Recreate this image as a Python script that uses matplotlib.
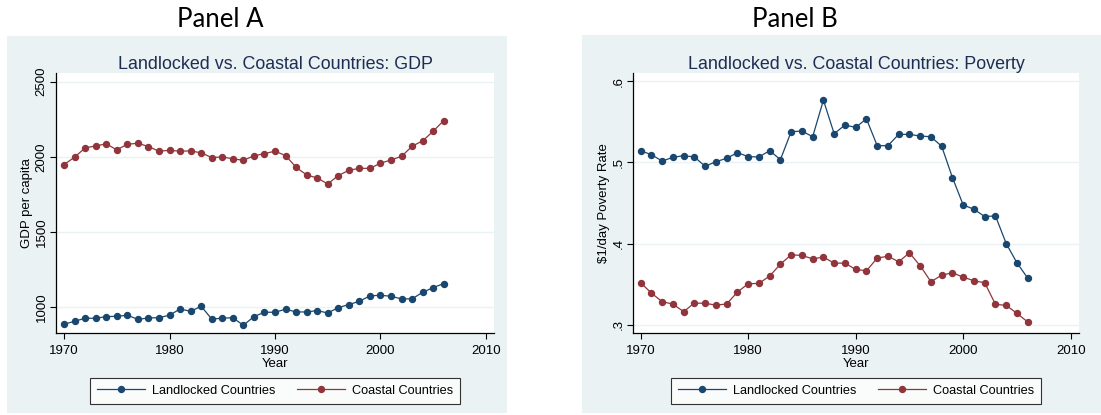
import matplotlib
matplotlib.use("Agg")
import matplotlib.pyplot as plt
from matplotlib.patches import Rectangle

# Data
years = list(range(1970, 2007))

gdp_landlocked = [887, 907, 927, 927, 938, 940, 947, 920, 929, 931,
                  947, 989, 973, 1007, 922, 927, 931, 880, 938, 967,
                  967, 987, 969, 969, 978, 962, 998, 1018, 1040, 1076,
                  1080, 1073, 1056, 1056, 1100, 1131, 1158]
gdp_coastal = [1949, 1998, 2060, 2073, 2087, 2047, 2084, 2091, 2069, 2038,
               2044, 2038, 2040, 2027, 1996, 2000, 1987, 1978, 2007, 2022,
               2038, 2009, 1931, 1880, 1860, 1820, 1876, 1911, 1924, 1924,
               1958, 1980, 2004, 2071, 2107, 2171, 2242]

pov_landlocked = [.5143, .5094, .5016, .5061, .5082, .5066, .4951, .5008, .5049, .5119,
                  .5070, .5066, .5143, .5033, .5377, .5385, .5315, .5766, .5352, .5459,
                  .5430, .5536, .5205, .5205, .5344, .5344, .5324, .5315, .5197, .4812,
                  .4475, .4422, .4332, .4340, .4000, .3762, .3574]
pov_coastal = [.3517, .3390, .3283, .3255, .3161, .3267, .3263, .3242, .3255, .3402,
               .3504, .3509, .3599, .3746, .3861, .3853, .3812, .3832, .3758, .3758,
               .3681, .3664, .3820, .3844, .3775, .3885, .3726, .3529, .3611, .3640,
               .3586, .3541, .3517, .3251, .3238, .3140, .3034]

series_names = ["Landlocked Countries", "Coastal Countries"]
x_ticks = [1970, 1980, 1990, 2000, 2010]
gdp_ticks = [1000, 1500, 2000, 2500]
pov_ticks = [.3, .4, .5, .6]
pov_tick_labels = [".3", ".4", ".5", ".6"]

NAVY = "#1a476f"
MAROON = "#90353b"
REGION = "#eaf2f3"
TITLE_COL = "#1e2d53"

plt.rcParams["font.family"] = ["Liberation Sans", "DejaVu Sans"]

W, H = 1101, 415
fig = plt.figure(figsize=(W / 100, H / 100), dpi=100)


def px_box(left, top, right, bottom):
    return [left / W, 1 - bottom / H, (right - left) / W, (bottom - top) / H]


def draw_panel(region, box, ylist1, ylist2, title, ylabel, yticks, yticklabels, ylim, xlim, panel_name, panel_x):
    # light gray-blue graph region behind the plot
    l, t, r, b = region
    fig.patches.append(Rectangle((l / W, 1 - b / H), (r - l) / W, (b - t) / H,
                                 transform=fig.transFigure, facecolor=REGION,
                                 edgecolor="none", zorder=-10))
    fig.text(panel_x / W, 1 - 27 / H, panel_name, ha="center", va="baseline",
             fontsize=18.5, family=["Lato", "DejaVu Sans"])

    ax = fig.add_axes(px_box(*box))
    ax.set_facecolor("white")
    ax.plot(years, ylist1, color=NAVY, lw=0.9, marker="o", ms=4.3, label=series_names[0])
    ax.plot(years, ylist2, color=MAROON, lw=0.9, marker="o", ms=4.3, label=series_names[1])
    ax.set_xlim(*xlim)
    ax.set_ylim(*ylim)
    ax.set_xticks(x_ticks)
    ax.set_yticks(yticks)
    ax.set_yticklabels(yticklabels, rotation=90, va="center")
    ax.tick_params(labelsize=9.5, length=4, width=0.8, color="black")
    ax.tick_params(axis="x", pad=4.5)
    ax.tick_params(axis="y", pad=2)
    for s in ["top", "right"]:
        ax.spines[s].set_visible(False)
    for s in ["left", "bottom"]:
        ax.spines[s].set_linewidth(0.9)
    ax.grid(axis="y", color=REGION, lw=1.0)
    ax.set_axisbelow(True)
    ax.set_title(title, fontsize=12.9, color=TITLE_COL, pad=2)
    ax.set_xlabel("Year", fontsize=9.5, labelpad=1.2)
    ax.set_ylabel(ylabel, fontsize=9.5, labelpad=2)
    leg = ax.legend(loc="upper center", bbox_to_anchor=(0.5, -0.172), ncol=2,
                    fontsize=9.2, frameon=True, fancybox=False, edgecolor="black",
                    handlelength=3.75, handletextpad=0.55, columnspacing=1.65,
                    borderpad=0.55, borderaxespad=0)
    leg.get_frame().set_linewidth(0.8)
    return ax


draw_panel((7, 36, 507, 413), (56, 73, 494, 333), gdp_landlocked, gdp_coastal,
           "Landlocked vs. Coastal Countries: GDP", "GDP per capita",
           gdp_ticks, [str(v) for v in gdp_ticks], (829, 2558), (1969.24, 2010.76),
           "Panel A", 220)
draw_panel((582, 35, 1101, 413), (633, 73, 1079, 333), pov_landlocked, pov_coastal,
           "Landlocked vs. Coastal Countries: Poverty", "$1/day Poverty Rate",
           pov_ticks, pov_tick_labels, (0.2898, 0.610), (1969.29, 2010.77),
           "Panel B", 795)

fig.savefig("out.png", dpi=100, facecolor="white")
